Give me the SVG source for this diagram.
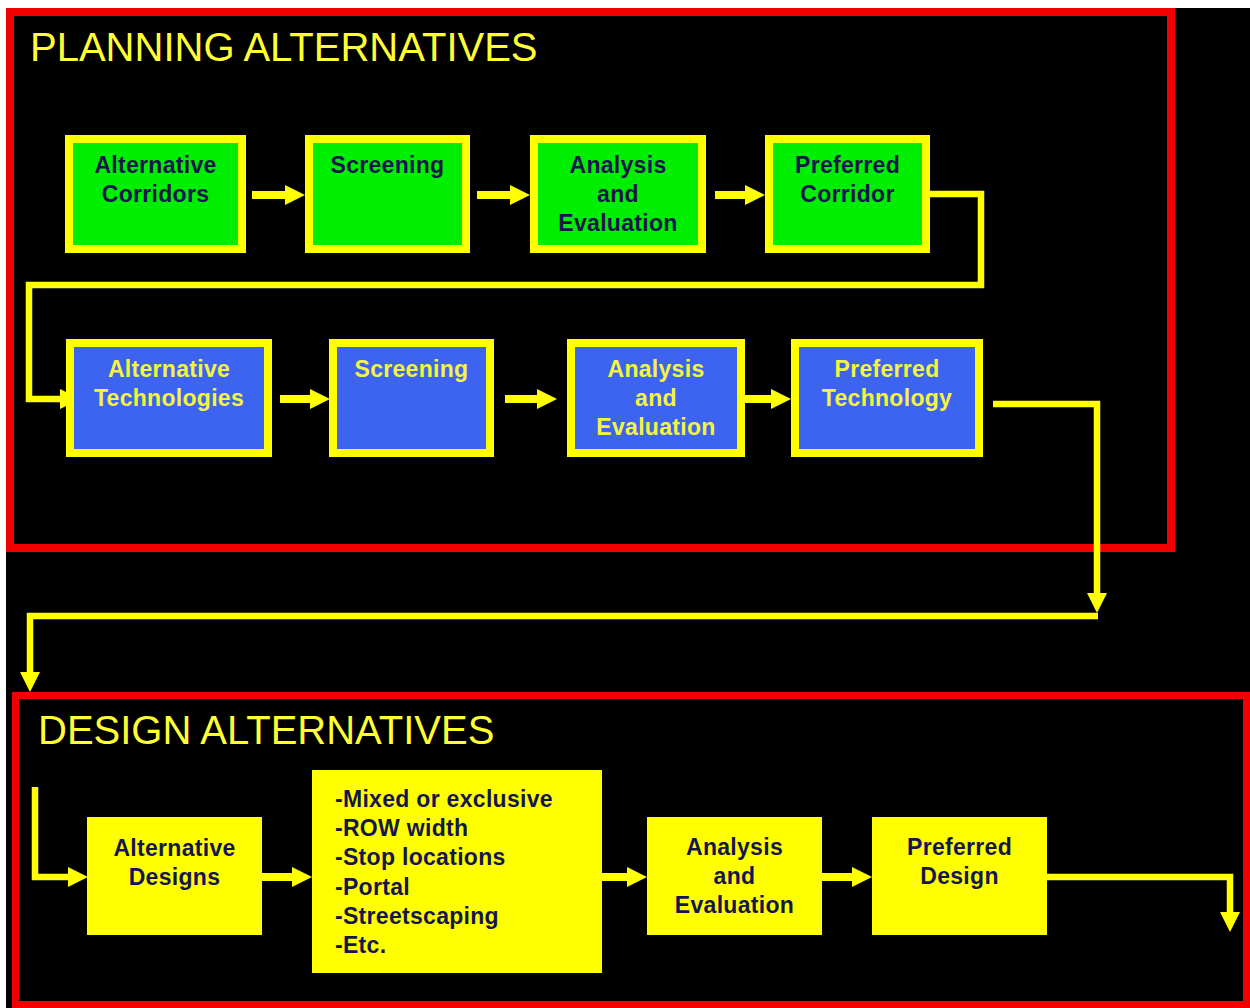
<svg xmlns="http://www.w3.org/2000/svg" width="1250" height="1008" viewBox="0 0 1250 1008">
  <style>
    .title { font-family: "Liberation Sans", Arial, sans-serif; font-size: 40px; fill: #FFFF33; }
    .lbl { font-family: "Liberation Sans", Arial, sans-serif; font-size: 23px; font-weight: bold; letter-spacing: 0.3px; text-anchor: middle; }
    .list { font-family: "Liberation Sans", Arial, sans-serif; font-size: 23px; font-weight: bold; letter-spacing: 0.3px; fill: #16164F; }
    .dark { fill: #16164F; }
    .ylw { fill: #F5F540; }
    .frame { fill: none; stroke: #F20000; }
    .green { fill: #00EE00; stroke: #FFFF00; stroke-width: 8; }
    .blue { fill: #3C64F0; stroke: #FFFF00; stroke-width: 8; }
    .yel { fill: #FFFF00; }
    .arr { fill: none; stroke: #FFFF00; stroke-width: 8; marker-end: url(#head); }
    .conn { fill: none; stroke: #FFFF00; stroke-width: 6.5; marker-end: url(#head); }
  </style>
  <defs>
    <marker id="head" markerUnits="userSpaceOnUse" markerWidth="20" markerHeight="20" refX="1" refY="10" orient="auto" overflow="visible">
      <path d="M0,0 L20,10 L0,20 Z" fill="#FFFF00"/>
    </marker>
  </defs>

  <rect x="0" y="0" width="1250" height="1008" fill="#FFFFFF"/>
  <rect x="6" y="8" width="1244" height="1000" fill="#000000"/>

  <g id="planning-frame">
    <rect class="frame" x="10" y="12" width="1161" height="536" stroke-width="8"/>
    <text class="title" x="30" y="61">PLANNING ALTERNATIVES</text>
  </g>
  <g id="design-frame">
    <rect class="frame" x="15.5" y="695.5" width="1231" height="309" stroke-width="7"/>
    <text class="title" x="38" y="744">DESIGN ALTERNATIVES</text>
  </g>

  <g id="connectors">
    <line class="arr" x1="252" y1="195" x2="286" y2="195"/>
    <line class="arr" x1="477" y1="195" x2="511" y2="195"/>
    <line class="arr" x1="715" y1="195" x2="746" y2="195"/>
    <path class="conn" d="M930,194 H981 V285 H29 V399 H61"/>
    <line class="arr" x1="280" y1="399" x2="311" y2="399"/>
    <line class="arr" x1="505" y1="399" x2="538" y2="399"/>
    <line class="arr" x1="745" y1="399" x2="772" y2="399"/>
    <path class="conn" d="M993,404 H1097 V594"/>
    <path class="conn" d="M1098,616 H30 V673"/>
    <path class="conn" d="M35,787 V877 H69"/>
    <line class="arr" x1="262" y1="877" x2="293" y2="877"/>
    <line class="arr" x1="600" y1="877" x2="628" y2="877"/>
    <line class="arr" x1="822" y1="877" x2="853" y2="877"/>
    <path class="conn" d="M1047,877 H1230 V913"/>
  </g>

  <g id="alt-corridors">
    <rect class="green" x="69" y="139" width="173" height="110"/>
    <text class="lbl dark" x="155.5" y="173">Alternative</text>
    <text class="lbl dark" x="155.5" y="202">Corridors</text>
  </g>
  <g id="screening-1">
    <rect class="green" x="309" y="139" width="157" height="110"/>
    <text class="lbl dark" x="387.5" y="173">Screening</text>
  </g>
  <g id="analysis-1">
    <rect class="green" x="534" y="139" width="168" height="110"/>
    <text class="lbl dark" x="618" y="173">Analysis</text>
    <text class="lbl dark" x="618" y="202">and</text>
    <text class="lbl dark" x="618" y="231">Evaluation</text>
  </g>
  <g id="preferred-corridor">
    <rect class="green" x="769" y="139" width="157" height="110"/>
    <text class="lbl dark" x="847.5" y="173">Preferred</text>
    <text class="lbl dark" x="847.5" y="202">Corridor</text>
  </g>

  <g id="alt-technologies">
    <rect class="blue" x="70" y="343" width="198" height="110"/>
    <text class="lbl ylw" x="169" y="377">Alternative</text>
    <text class="lbl ylw" x="169" y="406">Technologies</text>
  </g>
  <g id="screening-2">
    <rect class="blue" x="333" y="343" width="157" height="110"/>
    <text class="lbl ylw" x="411.5" y="377">Screening</text>
  </g>
  <g id="analysis-2">
    <rect class="blue" x="571" y="343" width="170" height="110"/>
    <text class="lbl ylw" x="656" y="377">Analysis</text>
    <text class="lbl ylw" x="656" y="406">and</text>
    <text class="lbl ylw" x="656" y="435">Evaluation</text>
  </g>
  <g id="preferred-technology">
    <rect class="blue" x="795" y="343" width="184" height="110"/>
    <text class="lbl ylw" x="887" y="377">Preferred</text>
    <text class="lbl ylw" x="887" y="406">Technology</text>
  </g>

  <g id="alt-designs">
    <rect class="yel" x="87" y="817" width="175" height="118"/>
    <text class="lbl dark" x="174.5" y="856">Alternative</text>
    <text class="lbl dark" x="174.5" y="885">Designs</text>
  </g>
  <g id="design-options">
    <rect class="yel" x="312" y="770" width="290" height="203"/>
    <text class="list" x="335" y="807">-Mixed or exclusive</text>
    <text class="list" x="335" y="836">-ROW width</text>
    <text class="list" x="335" y="865">-Stop locations</text>
    <text class="list" x="335" y="895">-Portal</text>
    <text class="list" x="335" y="924">-Streetscaping</text>
    <text class="list" x="335" y="953">-Etc.</text>
  </g>
  <g id="analysis-3">
    <rect class="yel" x="647" y="817" width="175" height="118"/>
    <text class="lbl dark" x="734.5" y="855">Analysis</text>
    <text class="lbl dark" x="734.5" y="884">and</text>
    <text class="lbl dark" x="734.5" y="913">Evaluation</text>
  </g>
  <g id="preferred-design">
    <rect class="yel" x="872" y="817" width="175" height="118"/>
    <text class="lbl dark" x="959.5" y="855">Preferred</text>
    <text class="lbl dark" x="959.5" y="884">Design</text>
  </g>
</svg>
